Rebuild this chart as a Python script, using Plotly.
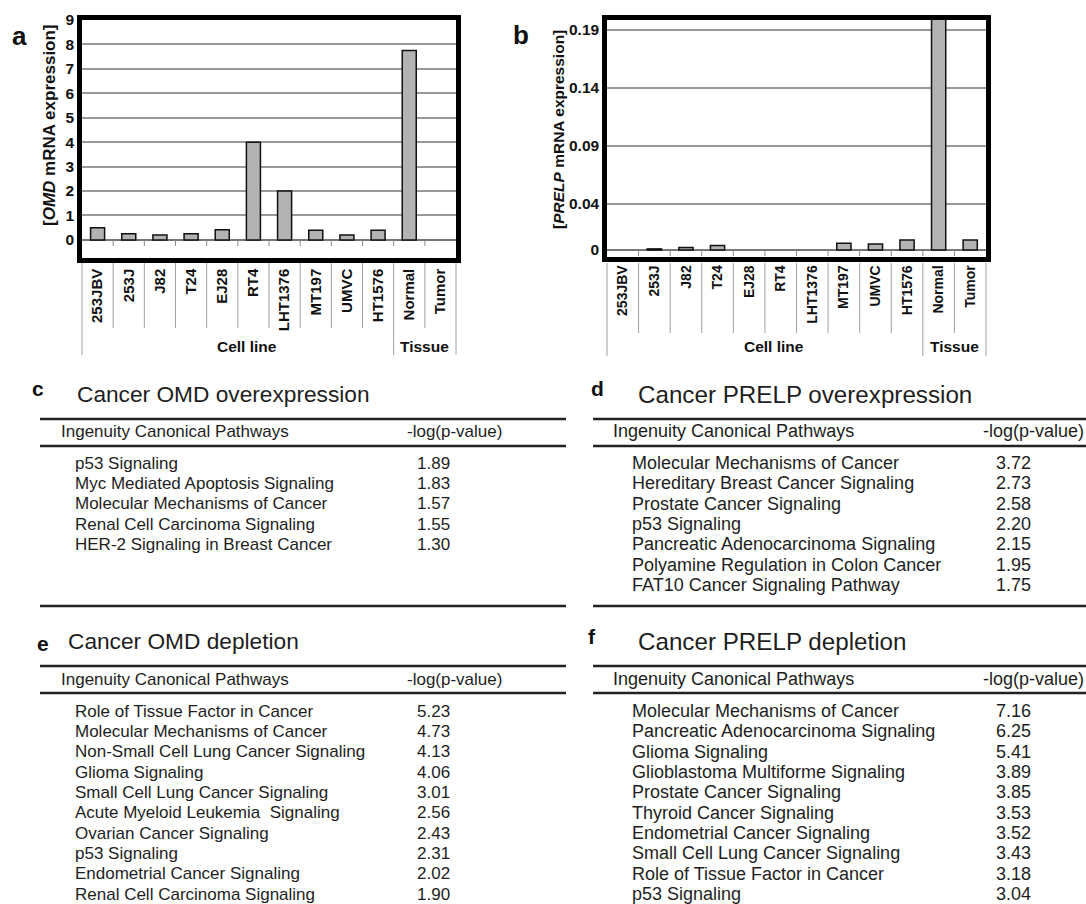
import plotly.graph_objects as go

W, H = 1086, 904
FONT = "Liberation Sans, Arial, sans-serif"

# ---- qPCR data (None = no detectable expression) ----
cell_lines = ["253JBV", "253J", "J82", "T24", "EJ28", "RT4", "LHT1376",
              "MT197", "UMVC", "HT1576"]
tissues = ["Normal", "Tumor"]
categories = cell_lines + tissues

omd_expr = [0.5, 0.25, 0.2, 0.25, 0.42, 4.0, 2.0, 0.4, 0.2, 0.4, 7.75, None]
prelp_expr = [None, 0.001, 0.0022, 0.004, None, None, None, 0.0058, 0.0052,
              0.0086, 0.21, 0.0086]

omd_ticks = [0, 1, 2, 3, 4, 5, 6, 7, 8, 9]
prelp_ticks = [0, 0.04, 0.09, 0.14, 0.19]
prelp_ticktext = ["0", "0.04", "0.09", "0.14", "0.19"]

# ---- Ingenuity pathway tables ----
c_pathways = ["p53 Signaling", "Myc Mediated Apoptosis Signaling",
              "Molecular Mechanisms of Cancer", "Renal Cell Carcinoma Signaling",
              "HER-2 Signaling in Breast Cancer"]
c_values = [1.89, 1.83, 1.57, 1.55, 1.30]

d_pathways = ["Molecular Mechanisms of Cancer", "Hereditary Breast Cancer Signaling",
              "Prostate Cancer Signaling", "p53 Signaling",
              "Pancreatic Adenocarcinoma Signaling", "Polyamine Regulation in Colon Cancer",
              "FAT10 Cancer Signaling Pathway"]
d_values = [3.72, 2.73, 2.58, 2.20, 2.15, 1.95, 1.75]

e_pathways = ["Role of Tissue Factor in Cancer", "Molecular Mechanisms of Cancer",
              "Non-Small Cell Lung Cancer Signaling", "Glioma Signaling",
              "Small Cell Lung Cancer Signaling", "Acute Myeloid Leukemia  Signaling",
              "Ovarian Cancer Signaling", "p53 Signaling",
              "Endometrial Cancer Signaling", "Renal Cell Carcinoma Signaling"]
e_values = [5.23, 4.73, 4.13, 4.06, 3.01, 2.56, 2.43, 2.31, 2.02, 1.90]

f_pathways = ["Molecular Mechanisms of Cancer", "Pancreatic Adenocarcinoma Signaling",
              "Glioma Signaling", "Glioblastoma Multiforme Signaling",
              "Prostate Cancer Signaling", "Thyroid Cancer Signaling",
              "Endometrial Cancer Signaling", "Small Cell Lung Cancer Signaling",
              "Role of Tissue Factor in Cancer", "p53 Signaling"]
f_values = [7.16, 6.25, 5.41, 3.89, 3.85, 3.53, 3.52, 3.43, 3.18, 3.04]

header_left = "Ingenuity Canonical Pathways"
header_right = "-log(p-value)"


def px(x):
    return x / W


def py(y):
    return 1 - y / H


fig = go.Figure()

BAR_FILL = "#b3b3b3"
fig.add_trace(go.Bar(x=categories, y=omd_expr, width=0.45,
                     marker=dict(color=BAR_FILL, line=dict(color="#111", width=1.5)),
                     xaxis="x", yaxis="y", hoverinfo="x+y"))
fig.add_trace(go.Bar(x=categories, y=prelp_expr, width=0.45,
                     marker=dict(color=BAR_FILL, line=dict(color="#111", width=1.5)),
                     xaxis="x2", yaxis="y2", hoverinfo="x+y"))

frame = dict(showline=True, linecolor="black", linewidth=4.5, mirror=True)
grid = dict(showgrid=True, gridcolor="#999999", gridwidth=1.5,
            zeroline=True, zerolinecolor="#777777", zerolinewidth=1.5)
n = len(categories)

fig.update_layout(
    template="none",
    width=W, height=H, margin=dict(l=0, r=0, t=0, b=0), autosize=False,
    paper_bgcolor="white", plot_bgcolor="white", showlegend=False,
    font=dict(family=FONT, color="#111"),
    xaxis=dict(domain=[px(82), px(456)], anchor="y", type="category",
               categoryorder="array", categoryarray=categories,
               range=[-0.5, n - 0.5], tickangle=-90, ticks="", showgrid=False,
               zeroline=False,
               tickfont=dict(family=FONT, size=15, weight="bold", color="#111"),
               ticklabelstandoff=0, **frame),
    yaxis=dict(domain=[py(258), py(20)], anchor="x", range=[-0.74, 9.0],
               tickvals=omd_ticks, ticks="",
               tickfont=dict(family=FONT, size=15.5, weight="bold", color="#111"),
               **grid, **frame),
    xaxis2=dict(domain=[px(607), px(986)], anchor="y2", type="category",
                categoryorder="array", categoryarray=categories,
                range=[-0.5, n - 0.5], tickangle=-90, ticks="", showgrid=False,
                zeroline=False,
                tickfont=dict(family=FONT, size=14, weight="bold", color="#111"),
                ticklabelstandoff=-2, **frame),
    yaxis2=dict(domain=[py(257), py(20)], anchor="x2", range=[-0.006, 0.1986],
                tickvals=prelp_ticks, ticktext=prelp_ticktext, ticks="",
                tickfont=dict(family=FONT, size=15.5, weight="bold", color="#111"),
                **grid, **frame),
)

shapes = []
annotations = []


def label(text, x, y, size, xref="paper", yref="paper", xanchor="center",
          yanchor="middle", angle=0, color="#111"):
    annotations.append(dict(text=text, xref=xref, yref=yref, x=x, y=y,
                            xanchor=xanchor, yanchor=yanchor, textangle=angle,
                            showarrow=False, font=dict(size=size, color=color)))


# small boundary ticks under the zero line and category separators below each chart
group_edges = {0, len(cell_lines), n}
for xa, ya, inner_end, group_end in (("x", "y", 328, 355), ("x2", "y2", 333, 356)):
    for i in range(n - 1):
        shapes.append(dict(type="line", xref=xa, yref=ya, x0=i + 0.5, x1=i + 0.5,
                           ysizemode="pixel", yanchor=0, y0=0, y1=-6,
                           line=dict(color="#888", width=1)))
    for k in range(n + 1):
        end = group_end if k in group_edges else inner_end
        shapes.append(dict(type="line", xref=xa + " domain", yref="paper",
                           x0=k / n, x1=k / n, y0=py(263), y1=py(end),
                           line=dict(color="#a0a0a0", width=1)))
    label("<b>Cell line</b>", (len(cell_lines) - 1) / 2 + 0.3, py(346), 15.5, xref=xa)
    label("<b>Tissue</b>", len(cell_lines) + (len(tissues) - 1) / 2, py(346), 15.5,
          xref=xa)

# y-axis titles and panel letters for the bar charts
label("<b>[<i>OMD</i> mRNA expression]</b>", px(49), py(125), 17, angle=-90)
label("<b>[<i>PRELP</i> mRNA expression]</b>", px(558), py(130), 15.5, angle=-90)
label("<b>a</b>", px(19), py(36), 26)
label("<b>b</b>", px(521), py(35), 26)


def add_table(letter, letter_pos, title, title_x, title_y, title_size,
              rule_x0, rule_x1, top_rule, header_y, mid_rule, header_x, logp_x,
              row_x, value_x, first_row, row_step, body_size, names, values,
              bottom_rule=None):
    label("<b>%s</b>" % letter, px(letter_pos[0]), py(letter_pos[1]), 21)
    label(title, px(title_x), py(title_y), title_size, xanchor="left",
          color="#1e1e1e")
    rules = [top_rule, mid_rule] + ([bottom_rule] if bottom_rule else [])
    for r in rules:
        shapes.append(dict(type="line", xref="paper", yref="paper",
                           x0=px(rule_x0), x1=px(rule_x1), y0=py(r), y1=py(r),
                           line=dict(color="#222", width=2.6)))
    for txt, x in ((header_left, header_x), (header_right, logp_x)):
        label(txt, px(x), py(header_y), body_size, xanchor="left", color="#1e1e1e")
    for i, (name, val) in enumerate(zip(names, values)):
        yy = py(first_row + i * row_step)
        label(name, px(row_x), yy, body_size, xanchor="left", color="#1e1e1e")
        label("%.2f" % val, px(value_x), yy, body_size, xanchor="left",
              color="#1e1e1e")


add_table("c", (38, 388), "Cancer OMD overexpression", 75, 394, 22.7,
          40, 566, 419, 431, 446, 59, 405, 73, 415, 463, 20.4, 17,
          c_pathways, c_values, bottom_rule=606)
add_table("d", (597, 389), "Cancer PRELP overexpression", 636, 394, 24.2,
          593, 1086, 419, 431, 446, 611, 981, 630, 994, 463, 20.3, 18,
          d_pathways, d_values, bottom_rule=606)
add_table("e", (43, 643), "Cancer OMD depletion", 66, 641, 22.7,
          40, 566, 666, 679, 693, 59, 405, 73, 415, 711, 20.35, 17,
          e_pathways, e_values)
add_table("f", (592, 636), "Cancer PRELP depletion", 636, 641, 24.2,
          593, 1086, 666, 679, 693, 611, 981, 630, 994, 711, 20.35, 18,
          f_pathways, f_values)

fig.update_layout(shapes=shapes, annotations=annotations)
fig.write_html("out.html")
